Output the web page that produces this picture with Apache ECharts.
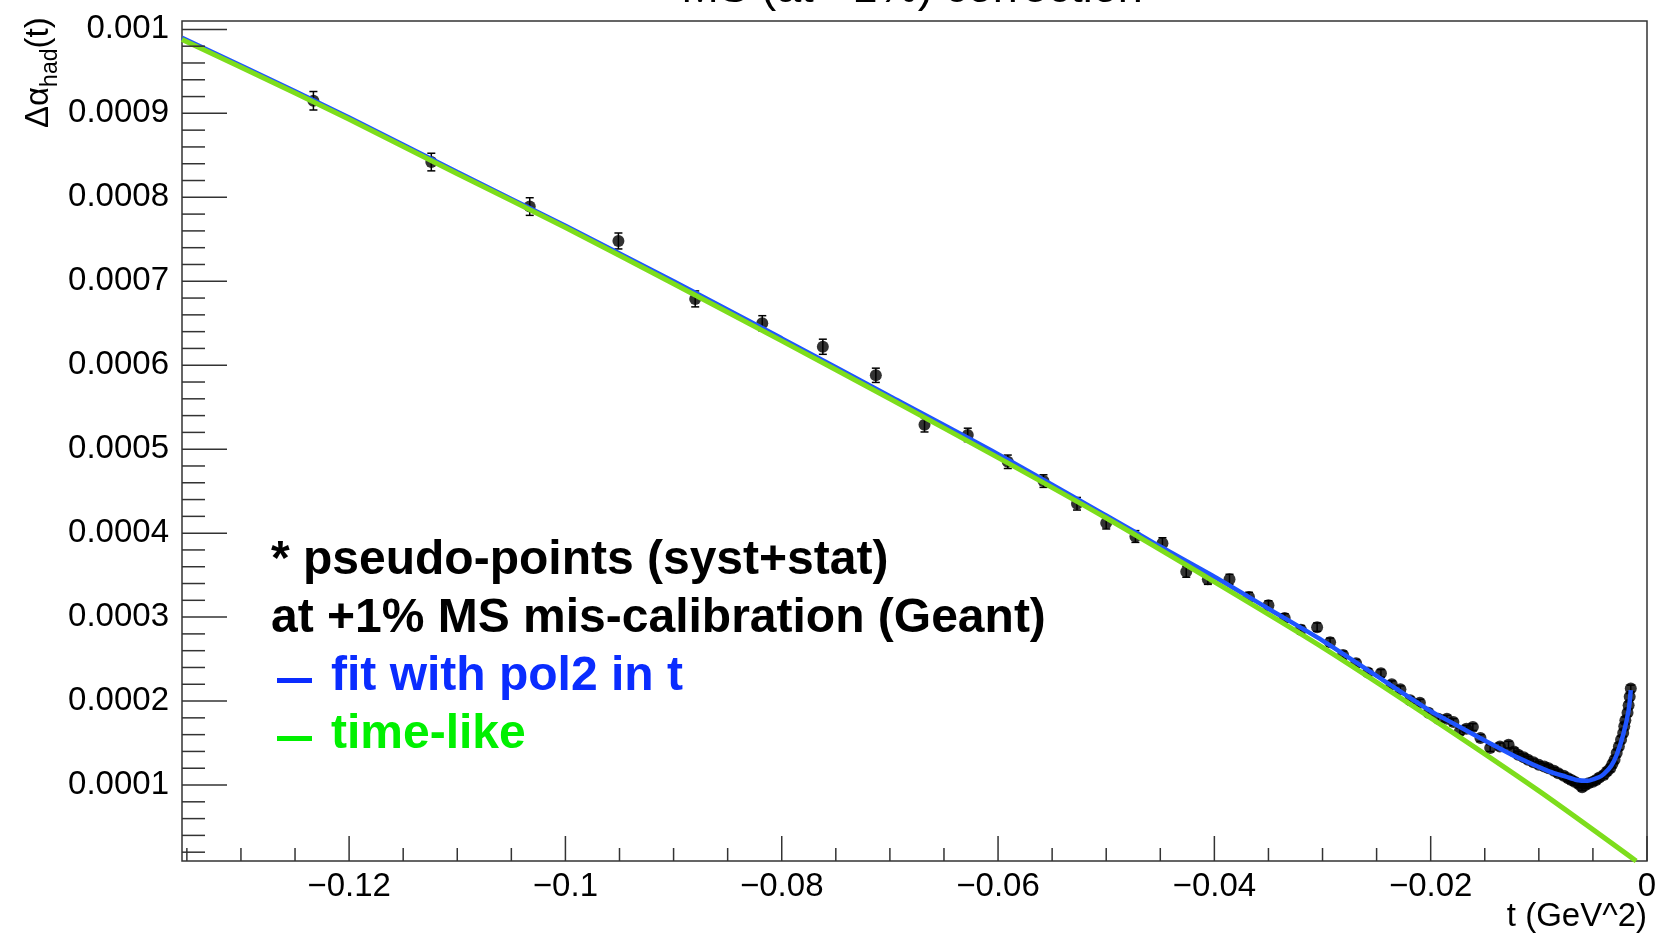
<!DOCTYPE html>
<html>
<head>
<meta charset="utf-8">
<script src="https://cdn.jsdelivr.net/npm/echarts@6/dist/echarts.min.js"></script>
<style>
  html, body { margin: 0; padding: 0; background: #ffffff; }
  #chart { width: 1658px; height: 938px; }
</style>
</head>
<body>
<div id="chart"></div>
<script>
// Axis ranges of the frame
const T_MIN = -0.13545, T_MAX = 0;
const V_MIN = 0.0000095, V_MAX = 0.00101;

// Pseudo-points (syst+stat): t, value, error
const pointT = [
  -0.1233, -0.1124, -0.1033, -0.0951, -0.0880, -0.0818, -0.0762, -0.0713, -0.0668,
  -0.0628, -0.0591, -0.0558, -0.0527, -0.0500, -0.0473, -0.0448, -0.0426, -0.0406, -0.0386,
  -0.0368, -0.0350, -0.0335, -0.0320, -0.0305, -0.0293, -0.0281, -0.0269, -0.0258, -0.0246,
  -0.0236, -0.0228, -0.0219, -0.0210, -0.0202, -0.0193, -0.0185, -0.0179, -0.0173, -0.0167,
  -0.0161, -0.0154, -0.0145, -0.0136, -0.0128, -0.0123, -0.0119, -0.0114, -0.0110, -0.0105,
  -0.0100, -0.0095, -0.0091, -0.0086, -0.0082, -0.0077, -0.0073, -0.0070, -0.0067, -0.0063,
  -0.0060, -0.0057, -0.0054, -0.0050, -0.0047, -0.0044, -0.0040, -0.0037, -0.0034, -0.0032,
  -0.0030, -0.0028, -0.0026, -0.0024, -0.0022, -0.0021, -0.0020, -0.0018, -0.0017, -0.0016,
  -0.0015
];
const pointV = [
  0.000915, 0.000842, 0.000789, 0.000748, 0.000679, 0.000650, 0.000622, 0.000588, 0.000529,
  0.000517, 0.000485, 0.000462, 0.000435, 0.000412, 0.000396, 0.000388, 0.000354, 0.000345, 0.000345,
  0.000324, 0.000314, 0.000299, 0.000285, 0.000288, 0.000270, 0.000255, 0.000245, 0.000234, 0.000233,
  0.000220, 0.000214, 0.000201, 0.000198, 0.000186, 0.000179, 0.000179, 0.000175, 0.000164, 0.000167,
  0.000169, 0.000156, 0.000144, 0.000146, 0.000148, 0.000140, 0.000136, 0.000133, 0.000130, 0.000127,
  0.000124, 0.000122, 0.000120, 0.000117, 0.000114, 0.000111, 0.000108, 0.000106, 0.000104, 0.000101,
  0.0000972, 0.000100, 0.000102, 0.000104, 0.000106, 0.000109, 0.000112, 0.000116, 0.000120, 0.000125,
  0.000130, 0.000138, 0.000146, 0.000154, 0.000162, 0.000170, 0.000177, 0.000186, 0.000195, 0.000205,
  0.000215
];
const pointErr = [
  0.000011, 0.0000105, 0.0000105, 0.0000095, 0.0000095, 0.000009, 0.000009, 0.0000085, 0.0000085,
  0.000008, 0.000008, 0.0000075, 0.0000075, 0.000007, 0.000007, 0.0000065, 0.0000065, 0.000006, 0.000006,
  0.0000055, 0.0000055, 0.000005, 0.000005, 0.000005, 0.000005, 0.0000045, 0.0000045, 0.0000045, 0.0000045,
  0.000004, 0.000004, 0.000004, 0.000004, 0.000004, 0.000004, 0.000004, 0.000004, 0.000004, 0.000004,
  0.000004, 0.000004, 0.000004, 0.000004, 0.000004, 0.000004, 0.000004, 0.000004, 0.000004, 0.000004,
  0.000004, 0.000004, 0.000004, 0.000004, 0.000004, 0.000004, 0.000004, 0.000004, 0.000004, 0.000004,
  0.000004, 0.000004, 0.000004, 0.000004, 0.000004, 0.000004, 0.000004, 0.000004, 0.000004, 0.000004,
  0.000004, 0.000004, 0.000004, 0.000004, 0.000004, 0.000004, 0.000004, 0.000004, 0.000004, 0.000004,
  0.000004
];

// Fit with pol2 in t (blue curve)
const fitT = [
  -0.13545, -0.13, -0.12, -0.11, -0.10, -0.09, -0.08, -0.07, -0.06, -0.05,
  -0.045, -0.04, -0.035, -0.03, -0.025, -0.02, -0.018, -0.015, -0.012, -0.009,
  -0.0075, -0.0065, -0.0055, -0.0045, -0.004, -0.0033, -0.0028, -0.0022, -0.0017, -0.0015
];
const fitV = [
  0.000990, 0.000957, 0.000895, 0.000830, 0.000766, 0.000700, 0.000632, 0.000563, 0.000494, 0.000421,
  0.000384, 0.000348, 0.000310, 0.000272, 0.000230, 0.000188, 0.000174, 0.000153, 0.000133, 0.000116,
  0.000110, 0.000106, 0.000105, 0.000109, 0.000113, 0.000123, 0.000136, 0.000160, 0.000189, 0.000213
];

// Time-like curve (green)
const timelikeT = [
  -0.13545, -0.13, -0.12, -0.11, -0.10, -0.09, -0.08, -0.07, -0.06, -0.05,
  -0.04, -0.03, -0.02, -0.01, -0.001
];
const timelikeV = [
  0.000988, 0.000955, 0.000893, 0.000828, 0.000764, 0.000697, 0.000629, 0.000560, 0.000490, 0.000418,
  0.000342, 0.000264, 0.000180, 0.000093, 0.0000095
];

// Axis ticks
const xMajorTicks = [-0.12, -0.10, -0.08, -0.06, -0.04, -0.02, 0];
const yMajorTicks = [0.0001, 0.0002, 0.0003, 0.0004, 0.0005, 0.0006, 0.0007, 0.0008, 0.0009, 0.001];
const X_LABEL_STEP = 0.02, Y_LABEL_STEP = 0.0001;
const X_MINOR_STEP = 0.005, Y_MINOR_STEP = 0.00002;

// Legend text lines (dash = line sample drawn before the text)
const legendLines = [
  { text: '* pseudo-points (syst+stat)', color: '#000000', dash: false },
  { text: 'at +1% MS mis-calibration (Geant)', color: '#000000', dash: false },
  { text: 'fit with pol2 in t', color: '#0a2cff', dash: true },
  { text: 'time-like', color: '#00f000', dash: true }
];
const legendRowY = [561, 619, 677, 735];

const FONT = 'Liberation Sans';
const AXIS_COLOR = '#333333';

function isOnStep(v, step) {
  const r = v / step;
  return Math.abs(r - Math.round(r)) < 1e-6;
}

// Minor tick positions between the labelled ones
const xMinorTicks = [];
for (let k = Math.ceil(T_MIN / X_MINOR_STEP - 1e-9); k * X_MINOR_STEP <= T_MAX + 1e-12; k++) {
  const v = +(k * X_MINOR_STEP).toFixed(6);
  if (!isOnStep(v, X_LABEL_STEP)) xMinorTicks.push(v);
}
const yMinorTicks = [];
for (let k = Math.ceil(V_MIN / Y_MINOR_STEP - 1e-9); k * Y_MINOR_STEP <= V_MAX + 1e-12; k++) {
  const v = +(k * Y_MINOR_STEP).toFixed(8);
  if (!isOnStep(v, Y_LABEL_STEP)) yMinorTicks.push(v);
}

// Tick items: [x, y, length, direction(0 = up from bottom, 1 = right from left)]
const tickItems = [];
xMajorTicks.forEach(t => tickItems.push([t, V_MIN, 25, 0]));
xMinorTicks.forEach(t => tickItems.push([t, V_MIN, 13, 0]));
yMajorTicks.forEach(v => tickItems.push([T_MIN, v, 45, 1]));
yMinorTicks.forEach(v => tickItems.push([T_MIN, v, 23, 1]));

function measure(str, size, weight) {
  const ctx = document.createElement('canvas').getContext('2d');
  ctx.font = (weight || 'normal') + ' ' + size + 'px "' + FONT + '"';
  return ctx.measureText(str).width;
}

const mainFs = 33, subFs = 23;
const wDelta = measure('\u0394\u03b1', mainFs);
const wSub = measure('had', subFs);

function minusSign(s) { return s.replace('-', '\u2212'); }

const legendGraphics = [];
legendLines.forEach((line, i) => {
  const y = legendRowY[i];
  if (line.dash) {
    legendGraphics.push({
      type: 'rect', z: 10,
      shape: { x: 277, y: y + 1, width: 35, height: 5 },
      style: { fill: line.color }
    });
  }
  legendGraphics.push({
    type: 'text', x: line.dash ? 331 : 271, y: y, z: 10,
    style: { text: line.text, fill: line.color, fontFamily: FONT, fontSize: 48, fontWeight: 'bold',
             align: 'left', verticalAlign: 'middle', textAlign: 'left', textVerticalAlign: 'middle' }
  });
});

const chart = echarts.init(document.getElementById('chart'), null, { renderer: 'canvas' });

const option = {
  animation: false,
  backgroundColor: '#ffffff',
  grid: {
    left: 182, right: 11, top: 21, bottom: 77,
    show: true, borderColor: AXIS_COLOR, borderWidth: 1.5, backgroundColor: 'transparent',
    containLabel: false, outerBoundsMode: 'none'
  },
  xAxis: {
    type: 'value', min: T_MIN, max: T_MAX, splitNumber: 7,
    axisLine: { show: false }, axisTick: { show: false }, splitLine: { show: false },
    axisLabel: {
      show: true, showMinLabel: true, showMaxLabel: true,
      color: '#000000', fontFamily: FONT, fontSize: 33, margin: 9,
      formatter: v => {
        if (!isOnStep(v, X_LABEL_STEP)) return '';
        if (Math.abs(v) < 1e-9) return '0';
        return minusSign(v.toFixed(2).replace(/0+$/, ''));
      }
    }
  },
  yAxis: {
    type: 'value', min: V_MIN, max: V_MAX, splitNumber: 10,
    axisLine: { show: false }, axisTick: { show: false }, splitLine: { show: false },
    axisLabel: {
      show: true, showMinLabel: true, showMaxLabel: true,
      color: '#000000', fontFamily: FONT, fontSize: 33, margin: 13,
      formatter: v => {
        if (!isOnStep(v, Y_LABEL_STEP)) return '';
        return v.toFixed(4).replace(/0+$/, '');
      }
    }
  },
  graphic: [
    // Plot title, mostly above the page edge
    {
      type: 'text', x: 912, y: -10, z: 10,
      style: { text: 'MS (at +1%) correction', fill: '#000000', fontFamily: FONT, fontSize: 45,
               align: 'center', verticalAlign: 'middle', textAlign: 'center', textVerticalAlign: 'middle' }
    },
    // X axis title
    {
      type: 'text', x: 1647, y: 917, z: 10,
      style: { text: 't (GeV^2)', fill: '#000000', fontFamily: FONT, fontSize: 33,
               align: 'right', verticalAlign: 'middle', textAlign: 'right', textVerticalAlign: 'middle' }
    },
    // Y axis title, rotated, with subscript
    {
      type: 'group', x: 49, y: 128, rotation: Math.PI / 2, z: 10,
      children: [
        { type: 'text', x: 0, y: -0.31 * mainFs,
          style: { text: '\u0394\u03b1', fill: '#000000', fontFamily: FONT, fontSize: mainFs,
                   align: 'left', verticalAlign: 'middle', textAlign: 'left', textVerticalAlign: 'middle' } },
        { type: 'text', x: wDelta, y: 9 - 0.31 * subFs,
          style: { text: 'had', fill: '#000000', fontFamily: FONT, fontSize: subFs,
                   align: 'left', verticalAlign: 'middle', textAlign: 'left', textVerticalAlign: 'middle' } },
        { type: 'text', x: wDelta + wSub, y: -0.31 * mainFs,
          style: { text: '(t)', fill: '#000000', fontFamily: FONT, fontSize: mainFs,
                   align: 'left', verticalAlign: 'middle', textAlign: 'left', textVerticalAlign: 'middle' } }
      ]
    }
  ].concat(legendGraphics),
  series: [
    {
      name: 'errors', type: 'custom', z: 2, clip: false,
      encode: { x: 0, y: 1 },
      data: pointT.map((t, i) => [t, pointV[i], pointErr[i]]),
      renderItem: (params, api) => {
        const t = api.value(0), v = api.value(1), e = api.value(2);
        const top = api.coord([t, v + e]);
        const bot = api.coord([t, v - e]);
        const cap = 4;
        const st = { stroke: '#000000', lineWidth: 1.5 };
        return {
          type: 'group',
          children: [
            { type: 'line', shape: { x1: top[0], y1: top[1], x2: bot[0], y2: bot[1] }, style: st },
            { type: 'line', shape: { x1: top[0] - cap, y1: top[1], x2: top[0] + cap, y2: top[1] }, style: st },
            { type: 'line', shape: { x1: bot[0] - cap, y1: bot[1], x2: bot[0] + cap, y2: bot[1] }, style: st }
          ]
        };
      }
    },
    {
      name: 'pseudo-points', type: 'scatter', z: 2,
      symbol: 'circle', symbolSize: 12,
      itemStyle: { color: '#000000' },
      data: pointT.map((t, i) => [t, pointV[i]])
    },
    {
      name: 'fit with pol2 in t', type: 'line', z: 3,
      showSymbol: false, symbol: 'none', smooth: 0.25,
      lineStyle: { color: '#1f55ff', width: 4.5 },
      data: fitT.map((t, i) => [t, fitV[i]])
    },
    {
      name: 'time-like', type: 'line', z: 4,
      showSymbol: false, symbol: 'none', smooth: 0.25,
      lineStyle: { color: '#7ddd1c', width: 5 },
      data: timelikeT.map((t, i) => [t, timelikeV[i]])
    },
    {
      name: 'ticks', type: 'custom', z: 5, clip: false, silent: true,
      encode: { x: 0, y: 1 },
      data: tickItems,
      renderItem: (params, api) => {
        const p = api.coord([api.value(0), api.value(1)]);
        const len = api.value(2);
        const dir = api.value(3);
        const shape = dir === 0
          ? { x1: p[0], y1: p[1], x2: p[0], y2: p[1] - len }
          : { x1: p[0], y1: p[1], x2: p[0] + len, y2: p[1] };
        return { type: 'line', shape: shape, style: { stroke: AXIS_COLOR, lineWidth: 1.5 } };
      }
    }
  ]
};

chart.setOption(option);
</script>
</body>
</html>
